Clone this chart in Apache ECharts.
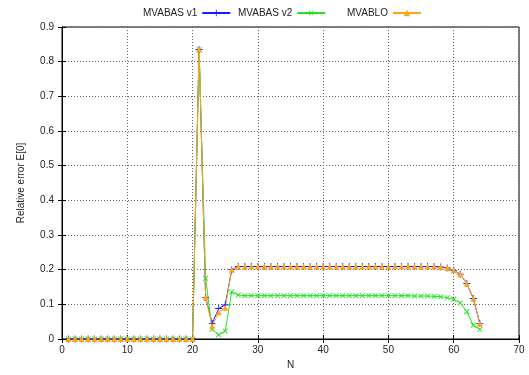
<!DOCTYPE html>
<html><head><meta charset="utf-8">
<script src="https://cdn.jsdelivr.net/npm/echarts@6/dist/echarts.min.js"></script>
<style>html,body{margin:0;padding:0;background:#fff}#c{width:529px;height:375px}</style>
</head><body><div id="c"></div>
<script>
const N = [1,2,3,4,5,6,7,8,9,10,11,12,13,14,15,16,17,18,19,20,21,22,23,24,25,26,27,28,29,30,31,32,33,34,35,36,37,38,39,40,41,42,43,44,45,46,47,48,49,50,51,52,53,54,55,56,57,58,59,60,61,62,63,64];
const mvabasV1 = [0,0,0,0,0,0,0,0,0,0,0,0,0,0,0,0,0,0,0,0,
  0.835,0.12,0.045,0.088,0.098,0.2,
  0.209,0.209,0.209,0.209,0.209,0.209,0.209,0.209,0.209,0.209,0.209,0.209,0.209,0.209,0.209,0.209,0.209,0.209,0.209,0.209,0.209,0.209,0.209,0.209,0.209,0.209,0.209,0.209,0.209,0.209,0.209,
  0.208,0.205,0.198,0.187,0.16,0.117,0.045];
const mvabasV2 = [0,0,0,0,0,0,0,0,0,0,0,0,0,0,0,0,0,0,0,0,
  0.835,0.175,0.028,0.012,0.023,0.136,
  0.127,0.125,0.125,0.125,0.125,0.125,0.125,0.125,0.125,0.125,0.125,0.125,0.125,0.125,0.125,0.125,0.125,0.125,0.125,0.125,0.125,0.125,0.125,0.125,0.125,0.125,0.125,0.124,0.124,0.124,0.123,
  0.122,0.119,0.115,0.104,0.079,0.04,0.028];
const mvablo = [0,0,0,0,0,0,0,0,0,0,0,0,0,0,0,0,0,0,0,0,
  0.835,0.12,0.037,0.077,0.09,0.2,
  0.209,0.209,0.209,0.209,0.209,0.209,0.209,0.209,0.209,0.209,0.209,0.209,0.209,0.209,0.209,0.209,0.209,0.209,0.209,0.209,0.209,0.209,0.209,0.209,0.209,0.209,0.209,0.209,0.209,0.209,0.209,
  0.208,0.205,0.198,0.187,0.16,0.117,0.045];
const seriesNames = ['MVABAS v1','MVABAS v2','MVABLO'];
const colors = ['#1a1aff','#22e022','#ffa514'];

const plus = 'path://M3.5,0h1v3.5h3.5v1h-3.5v3.5h-1v-3.5h-3.5v-1h3.5z';
const font = 'Liberation Sans';
const chart = echarts.init(document.getElementById('c'));
function pairs(arr){ return N.map((n,i)=>[n,arr[i]]); }
const leg = (name,left)=>({data:[name],left:left,top:8,padding:0,align:'right',itemWidth:28,itemHeight:8,
  textStyle:{fontFamily:font,fontSize:10,color:'#222'}});
chart.setOption({
  animation:false,
  color:colors,
  legend:[leg(seriesNames[0],143),leg(seriesNames[1],238),leg(seriesNames[2],347)],
  grid:{left:62,right:10,top:27,bottom:36,show:true,borderColor:'#000',borderWidth:1},
  xAxis:[{type:'value',min:0,max:70,interval:10,name:'N',nameLocation:'middle',nameGap:18,
    nameTextStyle:{fontFamily:font,fontSize:10,color:'#222'},
    axisLine:{lineStyle:{color:'#000'}},axisTick:{inside:true,length:4,lineStyle:{color:'#000'}},
    axisLabel:{fontFamily:font,fontSize:10,color:'#222',margin:6},
    splitLine:{show:true,lineStyle:{color:'#666',type:[1,2],width:1}}},
    {type:'value',min:0,max:70,interval:10,position:'top',axisLine:{lineStyle:{color:'#000'}},
    axisTick:{inside:true,length:4,lineStyle:{color:'#000'}},axisLabel:{show:false},splitLine:{show:false}}],
  yAxis:[{type:'value',min:0,max:0.9,interval:0.1,name:'Relative error E[0]',nameLocation:'middle',nameGap:36,
    nameTextStyle:{fontFamily:font,fontSize:10,color:'#222'},
    axisLine:{show:true,lineStyle:{color:'#000'}},axisTick:{show:true,inside:true,length:4,lineStyle:{color:'#000'}},
    axisLabel:{fontFamily:font,fontSize:10,color:'#222',margin:8},
    splitLine:{show:true,lineStyle:{color:'#666',type:[1,2],width:1}}},
    {type:'value',min:0,max:0.9,interval:0.1,position:'right',axisLine:{show:true,lineStyle:{color:'#000'}},
    axisTick:{show:true,inside:true,length:4,lineStyle:{color:'#000'}},axisLabel:{show:false},splitLine:{show:false}}],
  series:[
    {name:seriesNames[0],type:'line',data:pairs(mvabasV1),symbol:plus,symbolSize:7,showAllSymbol:true,
      lineStyle:{width:1},itemStyle:{color:colors[0]}},
    {name:seriesNames[1],type:'line',data:pairs(mvabasV2),symbol:plus,symbolRotate:45,symbolSize:7,showAllSymbol:true,
      lineStyle:{width:1},itemStyle:{color:colors[1]}},
    {name:seriesNames[2],type:'line',data:pairs(mvablo),symbol:'triangle',symbolSize:6,showAllSymbol:true,
      lineStyle:{width:1},itemStyle:{color:colors[2]}}
  ]
});
</script></body></html>
